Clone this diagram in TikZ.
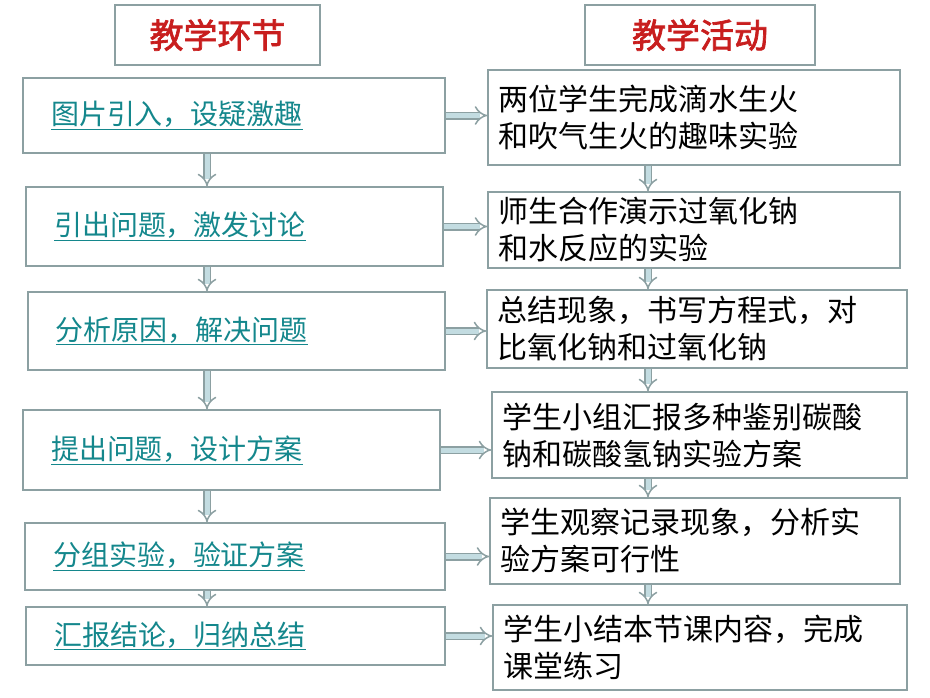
\documentclass[tikz,border=0pt]{standalone}
\usepackage{fontspec}
\setmainfont{Noto Sans CJK SC}[AutoFakeBold=2]
\usetikzlibrary{arrows,arrows.meta,positioning}
\definecolor{boxgray}{RGB}{140,160,162}
\definecolor{steptext}{RGB}{20,135,140}
\definecolor{headred}{RGB}{200,30,30}
\definecolor{arrowfill}{RGB}{195,220,225}
\tikzset{
  headbox/.style={draw=boxgray,line width=1.5pt,font=\fontsize{34}{38}\selectfont\bfseries,text=headred},
  stepbox/.style={draw=boxgray,line width=1.5pt,align=left,inner xsep=28pt,font=\fontsize{28}{32}\selectfont,text=steptext},
  actbox/.style={draw=boxgray,line width=1.5pt,align=left,inner xsep=10pt,font=\fontsize{30}{37}\selectfont},
  flow/.style={draw=boxgray,double=arrowfill,line width=1.5pt,double distance=5pt,-Implies}
}
\newcommand{\ul}[1]{\underline{#1}}
\begin{document}
\begin{tikzpicture}[x=1pt,y=-1pt]
\useasboundingbox (0,0) rectangle (930,697);

\node(h1)[headbox,minimum width=205pt,minimum height=60pt] at (217.5,35){教学环节};
\node(h2)[headbox,minimum width=230pt,minimum height=60pt] at (700,35){教学活动};

\node(l1)[stepbox,text width=366pt,minimum height=75pt] at (234,115.5){\ul{图片引入，设疑激趣}};
\node(l2)[stepbox,text width=361pt,minimum height=79pt] at (234.5,226.5){\ul{引出问题，激发讨论}};
\node(l3)[stepbox,text width=361pt,minimum height=78pt] at (236.5,331){\ul{分析原因，解决问题}};
\node(l4)[stepbox,text width=361pt,minimum height=80pt] at (231.5,450){\ul{提出问题，设计方案}};
\node(l5)[stepbox,text width=364pt,minimum height=67pt] at (235,556.5){\ul{分组实验，验证方案}};
\node(l6)[stepbox,text width=363pt,minimum height=58pt] at (235.5,636){\ul{汇报结论，归纳总结}};

\node(r1)[actbox,text width=392pt,minimum height=95pt] at (694,117.5){两位学生完成滴水生火\\和吹气生火的趣味实验};
\node(r2)[actbox,text width=392pt,minimum height=76pt] at (694,230){师生合作演示过氧化钠\\和水反应的实验};
\node(r3)[actbox,text width=400pt,minimum height=78pt] at (697,329){总结现象，书写方程式，对\\比氧化钠和过氧化钠};
\node(r4)[actbox,text width=395pt,minimum height=86pt] at (699.5,435){学生小组汇报多种鉴别碳酸\\钠和碳酸氢钠实验方案};
\node(r5)[actbox,text width=390pt,minimum height=86pt] at (695,541){学生观察记录现象，分析实\\验方案可行性};
\node(r6)[actbox,text width=394pt,minimum height=85pt] at (700,647.5){学生小结本节课内容，完成\\课堂练习};

\foreach \a/\b in {l1/l2,l2/l3,l3/l4,l4/l5,l5/l6}
  \draw[flow] (\a.south -| 207,0) -- (\b.north -| 207,0);
\foreach \a/\b in {r1/r2,r2/r3,r3/r4,r4/r5,r5/r6}
  \draw[flow] (\a.south -| 648,0) -- (\b.north -| 648,0);
\foreach \i in {1,...,6}
  \draw[flow] (l\i.east) -- (l\i.east -| r\i.west);

\end{tikzpicture}
\end{document}
